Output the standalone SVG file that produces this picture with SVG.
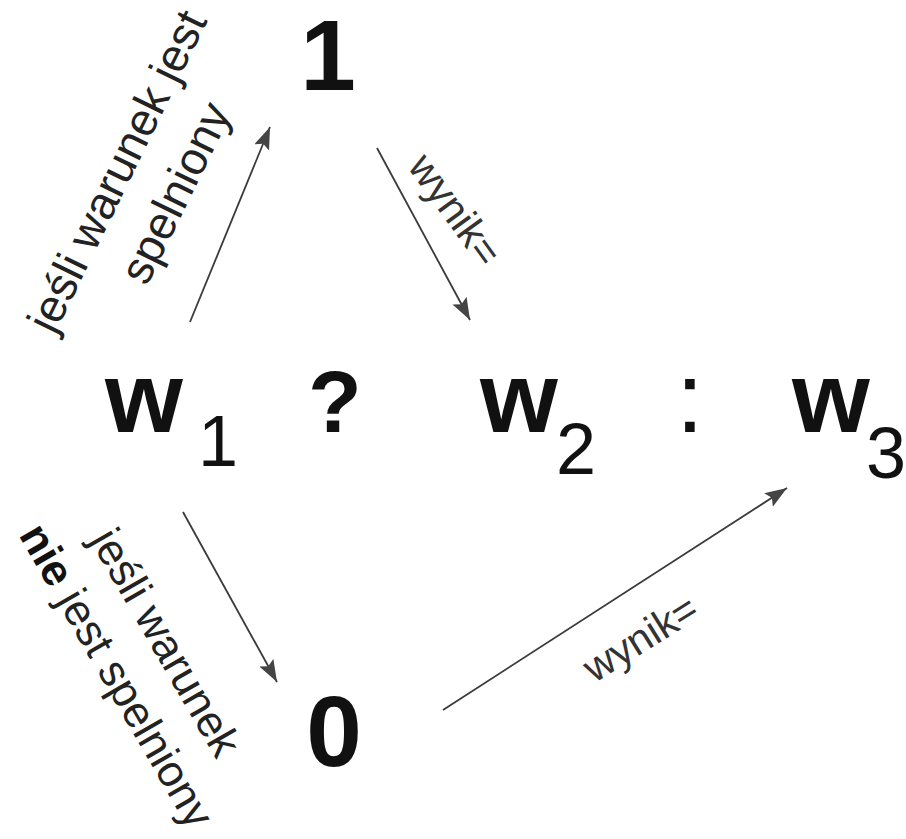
<svg xmlns="http://www.w3.org/2000/svg" width="906" height="839" viewBox="0 0 906 839">
<style>
.big{font-family:"Liberation Sans",Arial,sans-serif;font-weight:bold;font-size:100px;fill:#111;text-anchor:middle}
.sub{font-family:"Liberation Sans",Arial,sans-serif;font-size:72px;fill:#111;text-anchor:middle}
.lbl{font-family:"Liberation Sans",Arial,sans-serif;font-size:46px;fill:#222;text-anchor:middle}
.wyn{font-family:"Liberation Sans",Arial,sans-serif;font-size:41px;fill:#333;text-anchor:middle}
.arr{stroke:#3a3a3a;stroke-width:1.8;fill:none;marker-end:url(#ah)}
</style>
<defs>
<marker id="ah" markerUnits="userSpaceOnUse" markerWidth="24" markerHeight="18" refX="22" refY="8" orient="auto">
<path d="M0,0 L22,8 L0,16 L4,8 z" fill="#444"/>
</marker>
</defs>
<rect width="906" height="839" fill="#fff"/>
<g id="connectors">
<line class="arr" x1="190" y1="322" x2="270" y2="127"/>
<line class="arr" x1="377" y1="148" x2="470" y2="320"/>
<line class="arr" x1="183" y1="512" x2="277" y2="682"/>
<line class="arr" x1="443" y1="710" x2="787" y2="488"/>
<text class="lbl" transform="translate(131,178) rotate(-64)"><tspan x="0" y="0">jeśli warunek jest</tspan><tspan x="6" y="62">spelniony</tspan></text>
<text class="lbl" transform="translate(153,650) rotate(60)" style="font-size:44px"><tspan x="0" y="0">jeśli warunek</tspan><tspan x="4" y="59"><tspan font-weight="bold" fill="#111">nie</tspan> jest spelniony</tspan></text>
<text class="wyn" transform="translate(444,218) rotate(54)">wynik=</text>
<text class="wyn" transform="translate(648,650) rotate(-32)">wynik=</text>
</g>
<g id="node-1"><text class="big" x="328" y="90">1</text></g>
<g id="node-0"><text class="big" x="334" y="766">0</text></g>
<g id="node-w1"><text class="big" x="144" y="432">w</text><text class="sub" x="218" y="466">1</text></g>
<g id="node-q"><text class="big" x="335" y="432" style="font-size:88px">?</text></g>
<g id="node-w2"><text class="big" x="519" y="432">w</text><text class="sub" x="576" y="474">2</text></g>
<g id="node-colon"><text class="big" x="690" y="432" style="font-weight:normal">:</text></g>
<g id="node-w3"><text class="big" x="831" y="432">w</text><text class="sub" x="886" y="478">3</text></g>
</svg>
